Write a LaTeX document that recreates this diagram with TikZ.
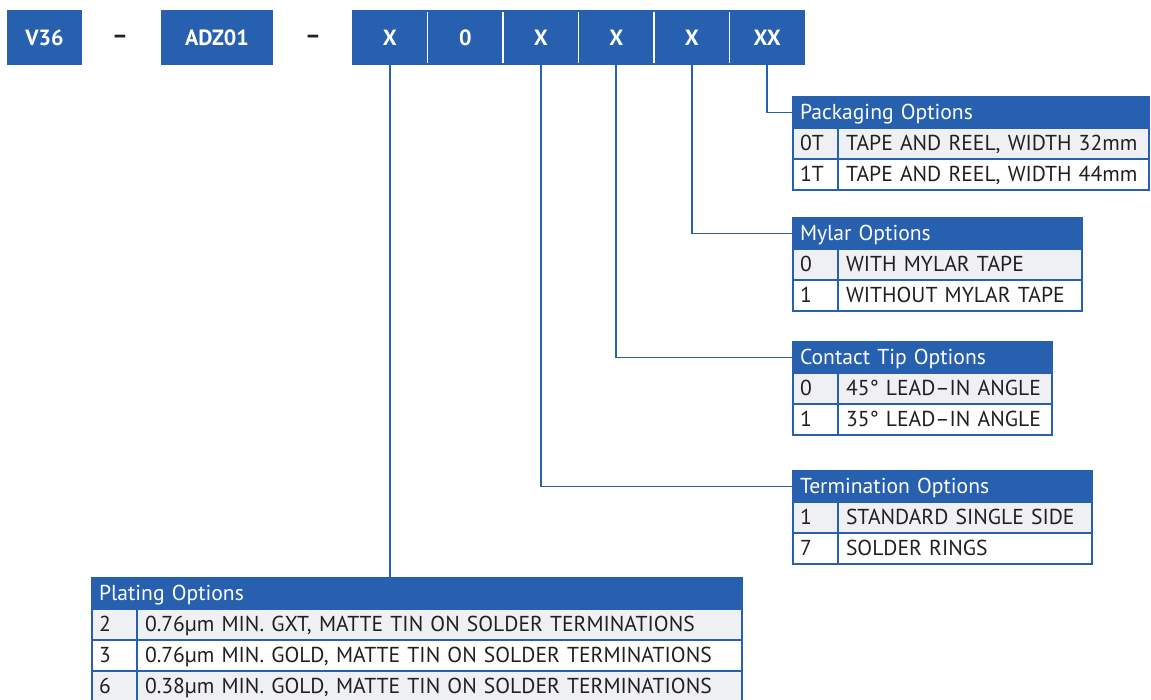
\documentclass[tikz,border=0pt]{standalone}
\usepackage{fontspec}
\setmainfont{PT Sans}
\usetikzlibrary{positioning}
\definecolor{optblue}{HTML}{2660AE}
\definecolor{rowgray}{HTML}{EFF0F3}
\definecolor{ink}{HTML}{231F20}

\begin{document}
\begin{tikzpicture}
  [x=1pt, y=-1pt,
   every node/.style={inner sep=0pt, outer sep=0pt, text=ink,
                      font=\fontsize{21.6}{22}\selectfont},
   code/.style={fill=optblue, text=white, minimum width=75.5pt, minimum height=55pt,
                font=\fontsize{22}{22}\selectfont\bfseries},
   minus/.style={font=\fontsize{24}{24}\selectfont\bfseries},
   divider/.style={draw=white, line width=1.5pt},
   link/.style={draw=optblue, line width=1.8pt},
   cell/.style={anchor=north west, draw=optblue, line width=1.5pt, align=left,
                minimum height=31pt, text height=16pt, text depth=2pt, inner xsep=7pt},
   head/.style={cell, fill=optblue, text=white},
   key/.style={cell, text width=31pt},
   val/.style={cell, inner xsep=8pt},
   odd/.style={fill=rowgray},
   even/.style={fill=white}]
  \useasboundingbox (0,0) rectangle (1151,700);

  % part number
  \node[code, minimum width=75pt] (v36) at (44.5,37.5) {V36};
  \node[minus] (dashA) at (120,39) {–};
  \node[code, minimum width=112pt] (adz) at (217,37.5) {ADZ01};
  \node[minus] (dashB) at (313,39) {–};
  \node[code] (c1) at (389.75,37.5) {X};
  \node[code, right=0pt of c1] (c2) {0};
  \node[code, right=0pt of c2] (c3) {X};
  \node[code, right=0pt of c3] (c4) {X};
  \node[code, right=0pt of c4] (c5) {X};
  \node[code, right=0pt of c5] (c6) {XX};
  \foreach \i in {1,...,5}
    \draw[divider] ([yshift=-2pt]c\i.north east) -- ([yshift=2pt]c\i.south east);

  % packaging
  \node[head, text width=342pt] (packHead) at (793,97) {Packaging Options};
  \node[key, odd] (pack1k) at (packHead.south west) {0T};
  \node[val, odd, text width=295pt] (pack1v) at (pack1k.north east) {TAPE AND REEL, WIDTH 32mm};
  \node[key, even] (pack2k) at (pack1k.south west) {1T};
  \node[val, even, text width=295pt] (pack2v) at (pack2k.north east) {TAPE AND REEL, WIDTH 44mm};

  % mylar
  \node[head, text width=275pt] (mylHead) at (793,218) {Mylar Options};
  \node[key, odd] (myl1k) at (mylHead.south west) {0};
  \node[val, odd, text width=228pt] (myl1v) at (myl1k.north east) {WITH MYLAR TAPE};
  \node[key, even] (myl2k) at (myl1k.south west) {1};
  \node[val, even, text width=228pt] (myl2v) at (myl2k.north east) {WITHOUT MYLAR TAPE};

  % contact tip
  \node[head, text width=245pt] (tipHead) at (793,342) {Contact Tip Options};
  \node[key, odd] (tip1k) at (tipHead.south west) {0};
  \node[val, odd, text width=198pt] (tip1v) at (tip1k.north east) {45° LEAD–IN ANGLE};
  \node[key, even] (tip2k) at (tip1k.south west) {1};
  \node[val, even, text width=198pt] (tip2v) at (tip2k.north east) {35° LEAD–IN ANGLE};

  % termination
  \node[head, text width=285pt] (termHead) at (793,471) {Termination Options};
  \node[key, odd] (term1k) at (termHead.south west) {1};
  \node[val, odd, text width=238pt] (term1v) at (term1k.north east) {STANDARD SINGLE SIDE};
  \node[key, even] (term2k) at (term1k.south west) {7};
  \node[val, even, text width=238pt] (term2v) at (term2k.north east) {SOLDER RINGS};

  % plating
  \node[head, text width=636pt] (platHead) at (92,578) {Plating Options};
  \node[key, odd] (plat1k) at (platHead.south west) {2};
  \node[val, odd, text width=589pt] (plat1v) at (plat1k.north east) {0.76µm MIN. GXT, MATTE TIN ON SOLDER TERMINATIONS};
  \node[key, even] (plat2k) at (plat1k.south west) {3};
  \node[val, even, text width=589pt] (plat2v) at (plat2k.north east) {0.76µm MIN. GOLD, MATTE TIN ON SOLDER TERMINATIONS};
  \node[key, odd] (plat3k) at (plat2k.south west) {6};
  \node[val, odd, text width=589pt] (plat3v) at (plat3k.north east) {0.38µm MIN. GOLD, MATTE TIN ON SOLDER TERMINATIONS};

  % connectors
  \draw[link] (c1.south) -- (c1.south |- platHead.north);
  \draw[link] (c3.south) |- (termHead.west);
  \draw[link] (c4.south) |- (tipHead.west);
  \draw[link] (c5.south) |- (mylHead.west);
  \draw[link] (c6.south) |- (packHead.west);
\end{tikzpicture}
\end{document}
